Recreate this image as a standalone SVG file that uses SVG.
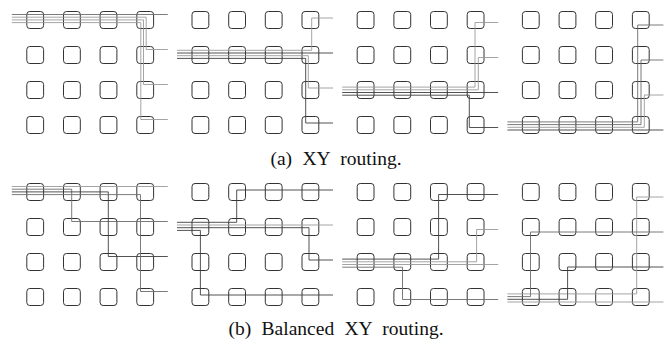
<svg xmlns="http://www.w3.org/2000/svg" width="668" height="341" viewBox="0 0 668 341">
<style>
.n{fill:none;stroke:#333;stroke-width:1}
.c path{fill:none;stroke-width:0.9}
.d{stroke:#404040}
.m{stroke:#6c6c6c}
.l{stroke:#9a9a9a}
.cap{font-family:"Liberation Serif","Times New Roman",serif;font-size:19.5px;fill:#111;word-spacing:5.5px;text-anchor:middle}
</style>
<defs><rect id="sq" class="n" width="16.8" height="17" rx="3"/></defs>
<rect width="668" height="341" fill="#fff"/>
<g id="panel-a1">
<g id="a1-r0c0"><use href="#sq" x="26.8" y="11.5"/></g><g id="a1-r0c1"><use href="#sq" x="63.5" y="11.5"/></g><g id="a1-r0c2"><use href="#sq" x="100.1" y="11.5"/></g><g id="a1-r0c3"><use href="#sq" x="136.8" y="11.5"/></g>
<g id="a1-r1c0"><use href="#sq" x="26.8" y="46.5"/></g><g id="a1-r1c1"><use href="#sq" x="63.5" y="46.5"/></g><g id="a1-r1c2"><use href="#sq" x="100.1" y="46.5"/></g><g id="a1-r1c3"><use href="#sq" x="136.8" y="46.5"/></g>
<g id="a1-r2c0"><use href="#sq" x="26.8" y="81.5"/></g><g id="a1-r2c1"><use href="#sq" x="63.5" y="81.5"/></g><g id="a1-r2c2"><use href="#sq" x="100.1" y="81.5"/></g><g id="a1-r2c3"><use href="#sq" x="136.8" y="81.5"/></g>
<g id="a1-r3c0"><use href="#sq" x="26.8" y="116.5"/></g><g id="a1-r3c1"><use href="#sq" x="63.5" y="116.5"/></g><g id="a1-r3c2"><use href="#sq" x="100.1" y="116.5"/></g><g id="a1-r3c3"><use href="#sq" x="136.8" y="116.5"/></g>
</g>
<g id="panel-a2">
<g id="a2-r0c0"><use href="#sq" x="192" y="11.5"/></g><g id="a2-r0c1"><use href="#sq" x="228.7" y="11.5"/></g><g id="a2-r0c2"><use href="#sq" x="265.3" y="11.5"/></g><g id="a2-r0c3"><use href="#sq" x="302" y="11.5"/></g>
<g id="a2-r1c0"><use href="#sq" x="192" y="46.5"/></g><g id="a2-r1c1"><use href="#sq" x="228.7" y="46.5"/></g><g id="a2-r1c2"><use href="#sq" x="265.3" y="46.5"/></g><g id="a2-r1c3"><use href="#sq" x="302" y="46.5"/></g>
<g id="a2-r2c0"><use href="#sq" x="192" y="81.5"/></g><g id="a2-r2c1"><use href="#sq" x="228.7" y="81.5"/></g><g id="a2-r2c2"><use href="#sq" x="265.3" y="81.5"/></g><g id="a2-r2c3"><use href="#sq" x="302" y="81.5"/></g>
<g id="a2-r3c0"><use href="#sq" x="192" y="116.5"/></g><g id="a2-r3c1"><use href="#sq" x="228.7" y="116.5"/></g><g id="a2-r3c2"><use href="#sq" x="265.3" y="116.5"/></g><g id="a2-r3c3"><use href="#sq" x="302" y="116.5"/></g>
</g>
<g id="panel-a3">
<g id="a3-r0c0"><use href="#sq" x="357.2" y="11.5"/></g><g id="a3-r0c1"><use href="#sq" x="393.9" y="11.5"/></g><g id="a3-r0c2"><use href="#sq" x="430.5" y="11.5"/></g><g id="a3-r0c3"><use href="#sq" x="467.2" y="11.5"/></g>
<g id="a3-r1c0"><use href="#sq" x="357.2" y="46.5"/></g><g id="a3-r1c1"><use href="#sq" x="393.9" y="46.5"/></g><g id="a3-r1c2"><use href="#sq" x="430.5" y="46.5"/></g><g id="a3-r1c3"><use href="#sq" x="467.2" y="46.5"/></g>
<g id="a3-r2c0"><use href="#sq" x="357.2" y="81.5"/></g><g id="a3-r2c1"><use href="#sq" x="393.9" y="81.5"/></g><g id="a3-r2c2"><use href="#sq" x="430.5" y="81.5"/></g><g id="a3-r2c3"><use href="#sq" x="467.2" y="81.5"/></g>
<g id="a3-r3c0"><use href="#sq" x="357.2" y="116.5"/></g><g id="a3-r3c1"><use href="#sq" x="393.9" y="116.5"/></g><g id="a3-r3c2"><use href="#sq" x="430.5" y="116.5"/></g><g id="a3-r3c3"><use href="#sq" x="467.2" y="116.5"/></g>
</g>
<g id="panel-a4">
<g id="a4-r0c0"><use href="#sq" x="522.4" y="11.5"/></g><g id="a4-r0c1"><use href="#sq" x="559.1" y="11.5"/></g><g id="a4-r0c2"><use href="#sq" x="595.7" y="11.5"/></g><g id="a4-r0c3"><use href="#sq" x="632.4" y="11.5"/></g>
<g id="a4-r1c0"><use href="#sq" x="522.4" y="46.5"/></g><g id="a4-r1c1"><use href="#sq" x="559.1" y="46.5"/></g><g id="a4-r1c2"><use href="#sq" x="595.7" y="46.5"/></g><g id="a4-r1c3"><use href="#sq" x="632.4" y="46.5"/></g>
<g id="a4-r2c0"><use href="#sq" x="522.4" y="81.5"/></g><g id="a4-r2c1"><use href="#sq" x="559.1" y="81.5"/></g><g id="a4-r2c2"><use href="#sq" x="595.7" y="81.5"/></g><g id="a4-r2c3"><use href="#sq" x="632.4" y="81.5"/></g>
<g id="a4-r3c0"><use href="#sq" x="522.4" y="116.5"/></g><g id="a4-r3c1"><use href="#sq" x="559.1" y="116.5"/></g><g id="a4-r3c2"><use href="#sq" x="595.7" y="116.5"/></g><g id="a4-r3c3"><use href="#sq" x="632.4" y="116.5"/></g>
</g>
<g id="panel-b1">
<g id="b1-r0c0"><use href="#sq" x="26.8" y="183.5"/></g><g id="b1-r0c1"><use href="#sq" x="63.5" y="183.5"/></g><g id="b1-r0c2"><use href="#sq" x="100.1" y="183.5"/></g><g id="b1-r0c3"><use href="#sq" x="136.8" y="183.5"/></g>
<g id="b1-r1c0"><use href="#sq" x="26.8" y="218.5"/></g><g id="b1-r1c1"><use href="#sq" x="63.5" y="218.5"/></g><g id="b1-r1c2"><use href="#sq" x="100.1" y="218.5"/></g><g id="b1-r1c3"><use href="#sq" x="136.8" y="218.5"/></g>
<g id="b1-r2c0"><use href="#sq" x="26.8" y="253.5"/></g><g id="b1-r2c1"><use href="#sq" x="63.5" y="253.5"/></g><g id="b1-r2c2"><use href="#sq" x="100.1" y="253.5"/></g><g id="b1-r2c3"><use href="#sq" x="136.8" y="253.5"/></g>
<g id="b1-r3c0"><use href="#sq" x="26.8" y="288.5"/></g><g id="b1-r3c1"><use href="#sq" x="63.5" y="288.5"/></g><g id="b1-r3c2"><use href="#sq" x="100.1" y="288.5"/></g><g id="b1-r3c3"><use href="#sq" x="136.8" y="288.5"/></g>
</g>
<g id="panel-b2">
<g id="b2-r0c0"><use href="#sq" x="192" y="183.5"/></g><g id="b2-r0c1"><use href="#sq" x="228.7" y="183.5"/></g><g id="b2-r0c2"><use href="#sq" x="265.3" y="183.5"/></g><g id="b2-r0c3"><use href="#sq" x="302" y="183.5"/></g>
<g id="b2-r1c0"><use href="#sq" x="192" y="218.5"/></g><g id="b2-r1c1"><use href="#sq" x="228.7" y="218.5"/></g><g id="b2-r1c2"><use href="#sq" x="265.3" y="218.5"/></g><g id="b2-r1c3"><use href="#sq" x="302" y="218.5"/></g>
<g id="b2-r2c0"><use href="#sq" x="192" y="253.5"/></g><g id="b2-r2c1"><use href="#sq" x="228.7" y="253.5"/></g><g id="b2-r2c2"><use href="#sq" x="265.3" y="253.5"/></g><g id="b2-r2c3"><use href="#sq" x="302" y="253.5"/></g>
<g id="b2-r3c0"><use href="#sq" x="192" y="288.5"/></g><g id="b2-r3c1"><use href="#sq" x="228.7" y="288.5"/></g><g id="b2-r3c2"><use href="#sq" x="265.3" y="288.5"/></g><g id="b2-r3c3"><use href="#sq" x="302" y="288.5"/></g>
</g>
<g id="panel-b3">
<g id="b3-r0c0"><use href="#sq" x="357.2" y="183.5"/></g><g id="b3-r0c1"><use href="#sq" x="393.9" y="183.5"/></g><g id="b3-r0c2"><use href="#sq" x="430.5" y="183.5"/></g><g id="b3-r0c3"><use href="#sq" x="467.2" y="183.5"/></g>
<g id="b3-r1c0"><use href="#sq" x="357.2" y="218.5"/></g><g id="b3-r1c1"><use href="#sq" x="393.9" y="218.5"/></g><g id="b3-r1c2"><use href="#sq" x="430.5" y="218.5"/></g><g id="b3-r1c3"><use href="#sq" x="467.2" y="218.5"/></g>
<g id="b3-r2c0"><use href="#sq" x="357.2" y="253.5"/></g><g id="b3-r2c1"><use href="#sq" x="393.9" y="253.5"/></g><g id="b3-r2c2"><use href="#sq" x="430.5" y="253.5"/></g><g id="b3-r2c3"><use href="#sq" x="467.2" y="253.5"/></g>
<g id="b3-r3c0"><use href="#sq" x="357.2" y="288.5"/></g><g id="b3-r3c1"><use href="#sq" x="393.9" y="288.5"/></g><g id="b3-r3c2"><use href="#sq" x="430.5" y="288.5"/></g><g id="b3-r3c3"><use href="#sq" x="467.2" y="288.5"/></g>
</g>
<g id="panel-b4">
<g id="b4-r0c0"><use href="#sq" x="522.4" y="183.5"/></g><g id="b4-r0c1"><use href="#sq" x="559.1" y="183.5"/></g><g id="b4-r0c2"><use href="#sq" x="595.7" y="183.5"/></g><g id="b4-r0c3"><use href="#sq" x="632.4" y="183.5"/></g>
<g id="b4-r1c0"><use href="#sq" x="522.4" y="218.5"/></g><g id="b4-r1c1"><use href="#sq" x="559.1" y="218.5"/></g><g id="b4-r1c2"><use href="#sq" x="595.7" y="218.5"/></g><g id="b4-r1c3"><use href="#sq" x="632.4" y="218.5"/></g>
<g id="b4-r2c0"><use href="#sq" x="522.4" y="253.5"/></g><g id="b4-r2c1"><use href="#sq" x="559.1" y="253.5"/></g><g id="b4-r2c2"><use href="#sq" x="595.7" y="253.5"/></g><g id="b4-r2c3"><use href="#sq" x="632.4" y="253.5"/></g>
<g id="b4-r3c0"><use href="#sq" x="522.4" y="288.5"/></g><g id="b4-r3c1"><use href="#sq" x="559.1" y="288.5"/></g><g id="b4-r3c2"><use href="#sq" x="595.7" y="288.5"/></g><g id="b4-r3c3"><use href="#sq" x="632.4" y="288.5"/></g>
</g>
<g id="connectors" class="c">
<path class="m" d="M11.8 14.5H167.8"/>
<path class="l" d="M11.8 17.2H146.2V49.5H167.8"/>
<path class="l" d="M11.8 19.9H143.5V84.5H167.8"/>
<path class="l" d="M11.8 22.6H140.8V119.5H167.8"/>
<path class="l" d="M177 50.3H311.7V18H333"/>
<path class="d" d="M177 53H333"/>
<path class="l" d="M177 55.7H308.3V88H333"/>
<path class="d" d="M177 58.4H305.7V123H333"/>
<path class="l" d="M342.2 87.1H475V22.5H498.2"/>
<path class="l" d="M342.2 89.8H478.3V57.5H498.2"/>
<path class="d" d="M342.2 92.5H498.2"/>
<path class="d" d="M342.2 95.2H469.3V127.5H498.2"/>
<path class="m" d="M507.4 121.9H637.7V25H663.4"/>
<path class="m" d="M507.4 124.6H641V60H663.4"/>
<path class="l" d="M507.4 127.3H644.3V95H663.4"/>
<path class="d" d="M507.4 130H663.4"/>
<path class="l" d="M11.8 186.5H167.8"/>
<path class="m" d="M11.8 189.2H71.7V221.5H167.8"/>
<path class="d" d="M11.8 191.9H108.3V256.5H167.8"/>
<path class="m" d="M11.8 194.6H140.5V291.5H167.8"/>
<path class="d" d="M177 222.3H236.7V190H333"/>
<path class="l" d="M177 225H333"/>
<path class="d" d="M177 227.7H309V260H333"/>
<path class="d" d="M177 230.4H200.4V295H333"/>
<path class="d" d="M342.2 259.1H438.6V194.5H498.2"/>
<path class="l" d="M342.2 261.8H476.6V229.5H498.2"/>
<path class="l" d="M342.2 264.5H498.2"/>
<path class="m" d="M342.2 267.2H402.5V299.5H498.2"/>
<path class="l" d="M507.4 293.9H636.7V197H663.4"/>
<path class="m" d="M507.4 296.6H530.5V232H663.4"/>
<path class="d" d="M507.4 299.3H567.6V267H663.4"/>
<path class="l" d="M507.4 302H663.4"/>
</g>
<text class="cap" x="336" y="165">(a) XY routing.</text>
<text class="cap" x="336" y="335">(b) Balanced XY routing.</text>
</svg>
